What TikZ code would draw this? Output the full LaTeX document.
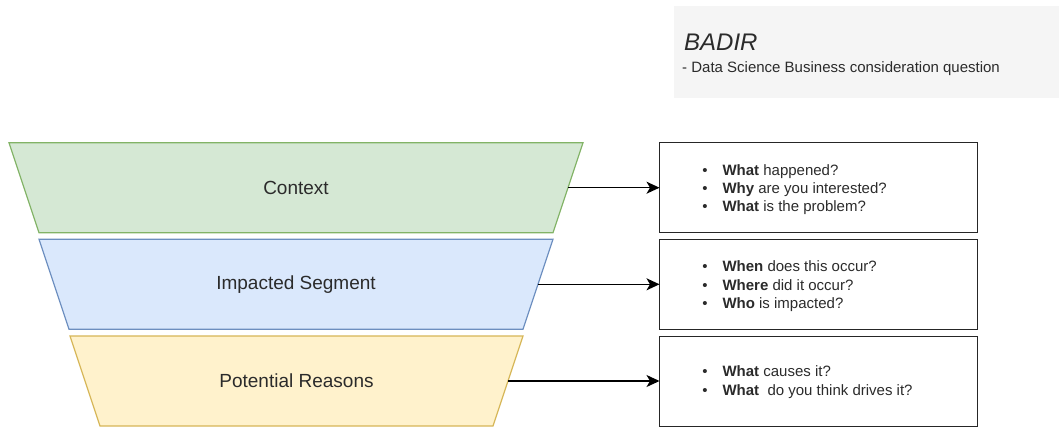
\documentclass[tikz,border=0pt]{standalone}
\usepackage{fontspec}
\setmainfont{Liberation Sans}
\usetikzlibrary{arrows.meta}

\definecolor{ctxfill}{HTML}{D5E8D4}
\definecolor{ctxline}{HTML}{82B366}
\definecolor{segfill}{HTML}{DAE8FC}
\definecolor{segline}{HTML}{6C8EBF}
\definecolor{rsnfill}{HTML}{FFF2CC}
\definecolor{rsnline}{HTML}{D6B656}
\definecolor{notefill}{HTML}{F5F5F5}
\definecolor{ink}{HTML}{2B2B2B}

\newcommand{\qbullet}{\llap{\textbullet\hspace{14.8pt}}}

\begin{document}
\begin{tikzpicture}[x=1pt,y=-1pt,
  stage/.style={line width=1.2pt, line join=miter},
  stagelabel/.style={font=\fontsize{19}{22}\selectfont, text=ink, inner sep=0},
  qbox/.style={draw=black!85, line width=1.3pt, minimum width=318pt,
    minimum height=90pt, anchor=north west, inner sep=0, outer sep=0},
  qline/.style={font=\fontsize{15}{18}\selectfont, text=ink, inner sep=0,
    anchor=base west},
  link/.style={draw=black, line width=1.3pt,
    -{Stealth[length=13pt,width=12pt,inset=3.5pt]}}]

\useasboundingbox (0,0) rectangle (1059,426);
\clip (0,0) rectangle (1059,426);

% note in the top right corner
\fill[notefill] (674,6) rectangle (1065,98);
\node[anchor=base west, inner sep=0, text=ink,
  font=\itshape\fontsize{24}{28}\selectfont] (title) at (684,50) {BADIR};
\node[anchor=base west, inner sep=0, text=ink,
  font=\fontsize{15}{17}\selectfont] (subtitle) at (682,72.3)
  {- Data Science Business consideration question};

% funnel stages
\draw[stage, draw=ctxline, fill=ctxfill]
  (9,142.7) coordinate (c1) -- (583,142.7) coordinate (c2)
  -- (553,232.7) coordinate (c3) -- (39,232.7) coordinate (c4) -- cycle;
\path (c2) -- (c3) coordinate[midway] (ctxR);
\node[stagelabel] (ctx) at (296,187.7) {Context};

\draw[stage, draw=segline, fill=segfill]
  (39,239.3) coordinate (s1) -- (553,239.3) coordinate (s2)
  -- (523,329.3) coordinate (s3) -- (69,329.3) coordinate (s4) -- cycle;
\path (s2) -- (s3) coordinate[midway] (segR);
\node[stagelabel] (seg) at (296,284.3) {Impacted Segment};

\draw[stage, draw=rsnline, fill=rsnfill]
  (70,336) coordinate (r1) -- (523,336) coordinate (r2)
  -- (493,426) coordinate (r3) -- (100,426) coordinate (r4) -- cycle;
\path (r2) -- (r3) coordinate[midway] (rsnR);
\node[stagelabel] (rsn) at (296.5,381) {Potential Reasons};

% question boxes
\node[qbox] (q1) at (659.5,142.7) {};
\node[qbox] (q2) at (659.5,239.3) {};
\node[qbox] (q3) at (659.5,336.2) {};

\node[qline] (q1a) at (722.3,175)   {\qbullet\textbf{What} happened?};
\node[qline] (q1b) at (722.3,193.3) {\qbullet\textbf{Why} are you interested?};
\node[qline] (q1c) at (722.3,211.7) {\qbullet\textbf{What} is the problem?};

\node[qline] (q2a) at (722.3,271.7) {\qbullet\textbf{When} does this occur?};
\node[qline] (q2b) at (722.3,290)   {\qbullet\textbf{Where} did it occur?};
\node[qline] (q2c) at (722.3,308.3) {\qbullet\textbf{Who} is impacted?};

\node[qline] (q3a) at (722.3,376.7) {\qbullet\textbf{What} causes it?};
\node[qline] (q3b) at (722.3,395.5) {\qbullet\textbf{What}\ \ do you think drives it?};

% connectors
\draw[link] (ctxR) -- (ctxR -| q1.west);
\draw[link] (segR) -- (segR -| q2.west);
\draw[link] (rsnR) -- (rsnR -| q3.west);
\end{tikzpicture}
\end{document}
